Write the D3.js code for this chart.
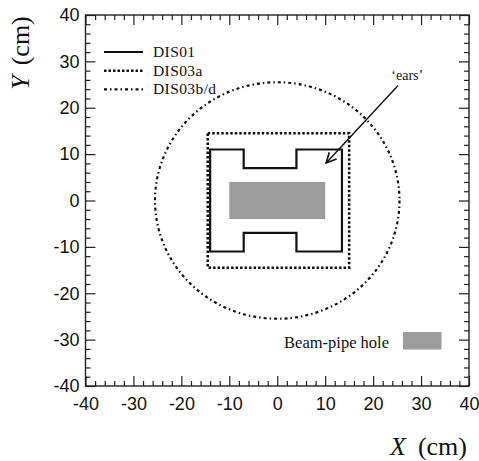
<!DOCTYPE html>
<html>
<head>
<meta charset="utf-8">
<script src="https://cdnjs.cloudflare.com/ajax/libs/d3/7.8.5/d3.min.js"></script>
<style>
  body { margin: 0; background: #fff; }
  .tick text { font-family: "Liberation Sans", Arial, sans-serif; font-size: 18px; fill: #111; }
  .serif { font-family: "Liberation Serif", "DejaVu Serif", serif; fill: #111; }
</style>
</head>
<body>
<div id="chart"></div>
<script>
// Tick values (cm)
var majorTicks = [-40, -30, -20, -10, 0, 10, 20, 30, 40];
var minorTicks = [-38, -36, -34, -32, -28, -26, -24, -22, -18, -16, -14, -12, -8, -6, -4, -2,
                  2, 4, 6, 8, 12, 14, 16, 18, 22, 24, 26, 28, 32, 34, 36, 38];

// Detector outlines (x, y in cm)
var dis01 = [[-14, 11], [-7, 11], [-7, 7], [4, 7], [4, 11], [13.5, 11], [13.5, -11],
             [4, -11], [4, -7], [-7, -7], [-7, -11], [-14, -11]];
var dis03a = [[-14.5, 14.5], [15, 14.5], [15, -14.5], [-14.5, -14.5]];
var dis03bdRadius = 25.5;
var beamHole = { x0: -10, x1: 10, y0: -4, y1: 4 };

// Annotation arrow: from label to the ear
var earsArrow = [[25.2, 24.8], [10.2, 8.1]];
var earsLabel = { x: 23.8, y: 26, text: "\u2018ears\u2019" };

var legendItems = [
  { name: "DIS01", dash: null },
  { name: "DIS03a", dash: "2.5,2" },
  { name: "DIS03b/d", dash: "3,3,1.5,3" }
];

var width = 479, height = 461;

var svg = d3.select("#chart").append("svg")
  .attr("width", width)
  .attr("height", height);

var x = d3.scaleLinear().domain([-40, 40]).range([85.5, 469]);
var y = d3.scaleLinear().domain([-40, 40]).range([386, 15]);

// arrow marker
svg.append("defs").append("marker")
  .attr("id", "arrow")
  .attr("viewBox", "0 0 12 12")
  .attr("refX", 11)
  .attr("refY", 6)
  .attr("markerWidth", 12)
  .attr("markerHeight", 12)
  .attr("markerUnits", "userSpaceOnUse")
  .attr("orient", "auto")
  .append("path")
  .attr("d", "M1,1 L11,6 L1,11")
  .attr("fill", "none")
  .attr("stroke", "#111")
  .attr("stroke-width", 1.6);

// Axes (ticks point inward)
function styleAxis(g) {
  g.select(".domain").remove();
  g.selectAll(".tick line").attr("stroke", "#222").attr("stroke-width", 1.2);
}
var fmt = d => String(d); // plain hyphen minus like the original

svg.append("g")
  .attr("transform", "translate(0," + y(-40) + ")")
  .call(d3.axisBottom(x).tickValues(majorTicks).tickSize(-10).tickPadding(11).tickFormat(fmt))
  .call(styleAxis);
svg.append("g")
  .attr("transform", "translate(0," + y(-40) + ")")
  .call(d3.axisBottom(x).tickValues(minorTicks).tickSize(-5).tickFormat(""))
  .call(styleAxis);
svg.append("g")
  .attr("transform", "translate(0," + y(40) + ")")
  .call(d3.axisTop(x).tickValues(majorTicks).tickSize(-10).tickFormat(""))
  .call(styleAxis);
svg.append("g")
  .attr("transform", "translate(0," + y(40) + ")")
  .call(d3.axisTop(x).tickValues(minorTicks).tickSize(-5).tickFormat(""))
  .call(styleAxis);

svg.append("g")
  .attr("transform", "translate(" + x(-40) + ",0)")
  .call(d3.axisLeft(y).tickValues(majorTicks).tickSize(-10).tickPadding(6).tickFormat(fmt))
  .call(styleAxis);
svg.append("g")
  .attr("transform", "translate(" + x(-40) + ",0)")
  .call(d3.axisLeft(y).tickValues(minorTicks).tickSize(-5).tickFormat(""))
  .call(styleAxis);
svg.append("g")
  .attr("transform", "translate(" + x(40) + ",0)")
  .call(d3.axisRight(y).tickValues(majorTicks).tickSize(-10).tickFormat(""))
  .call(styleAxis);
svg.append("g")
  .attr("transform", "translate(" + x(40) + ",0)")
  .call(d3.axisRight(y).tickValues(minorTicks).tickSize(-5).tickFormat(""))
  .call(styleAxis);

// frame
svg.append("rect")
  .attr("x", x(-40)).attr("y", y(40))
  .attr("width", x(40) - x(-40)).attr("height", y(-40) - y(40))
  .attr("fill", "none").attr("stroke", "#222").attr("stroke-width", 1.4);

// beam-pipe hole
svg.append("rect")
  .attr("x", x(beamHole.x0)).attr("y", y(beamHole.y1))
  .attr("width", x(beamHole.x1) - x(beamHole.x0))
  .attr("height", y(beamHole.y0) - y(beamHole.y1))
  .attr("fill", "#9c9c9c");

var line = d3.line().x(d => x(d[0])).y(d => y(d[1]));

// DIS01 solid outline
svg.append("path")
  .attr("d", line(dis01) + "Z")
  .attr("fill", "none").attr("stroke", "#111").attr("stroke-width", 2.2);

// DIS03a dotted square
svg.append("path")
  .attr("d", line(dis03a) + "Z")
  .attr("fill", "none").attr("stroke", "#111").attr("stroke-width", 2.6)
  .attr("stroke-dasharray", "2.5,2");

// DIS03b/d dash-dot circle
svg.append("ellipse")
  .attr("cx", x(0)).attr("cy", y(0))
  .attr("rx", x(dis03bdRadius) - x(0))
  .attr("ry", y(0) - y(dis03bdRadius))
  .attr("fill", "none").attr("stroke", "#111").attr("stroke-width", 2.2)
  .attr("stroke-dasharray", "3,3,1.5,3");

// ears arrow
svg.append("path")
  .attr("d", line(earsArrow))
  .attr("stroke", "#111").attr("stroke-width", 1.4).attr("fill", "none")
  .attr("marker-end", "url(#arrow)");
svg.append("text")
  .attr("class", "serif")
  .attr("x", x(earsLabel.x)).attr("y", y(earsLabel.y))
  .style("font-size", "14px")
  .text(earsLabel.text);

// legend
var legend = svg.append("g").attr("transform", "translate(104,52)");
legendItems.forEach(function(item, i) {
  legend.append("line")
    .attr("x1", 0).attr("x2", 39)
    .attr("y1", i * 18.7).attr("y2", i * 18.7)
    .attr("stroke", "#111")
    .attr("stroke-width", item.dash ? 2.4 : 2.2)
    .attr("stroke-dasharray", item.dash);
  legend.append("text")
    .attr("class", "serif")
    .attr("x", 49).attr("y", i * 18.7 + 5)
    .style("font-size", "15.5px")
    .style("letter-spacing", "0.4px")
    .text(item.name);
});

// beam-pipe legend
svg.append("text")
  .attr("class", "serif")
  .attr("x", 389).attr("y", 348)
  .attr("text-anchor", "end")
  .style("font-size", "16.5px")
  .text("Beam-pipe hole");
svg.append("rect")
  .attr("x", 403).attr("y", 332)
  .attr("width", 38.5).attr("height", 17.5)
  .attr("fill", "#9c9c9c");

// axis titles
var xt = svg.append("text")
  .attr("class", "serif")
  .attr("x", 467).attr("y", 455)
  .attr("text-anchor", "end")
  .style("font-size", "26px");
xt.append("tspan").style("font-style", "italic").text("X");
xt.append("tspan").attr("dx", 12).text("(cm)");

var yt = svg.append("text")
  .attr("class", "serif")
  .attr("transform", "translate(29,53) rotate(-90)")
  .attr("text-anchor", "middle")
  .style("font-size", "26px");
yt.append("tspan").style("font-style", "italic").text("Y");
yt.append("tspan").attr("dx", 10).text("(cm)");
</script>
</body>
</html>
